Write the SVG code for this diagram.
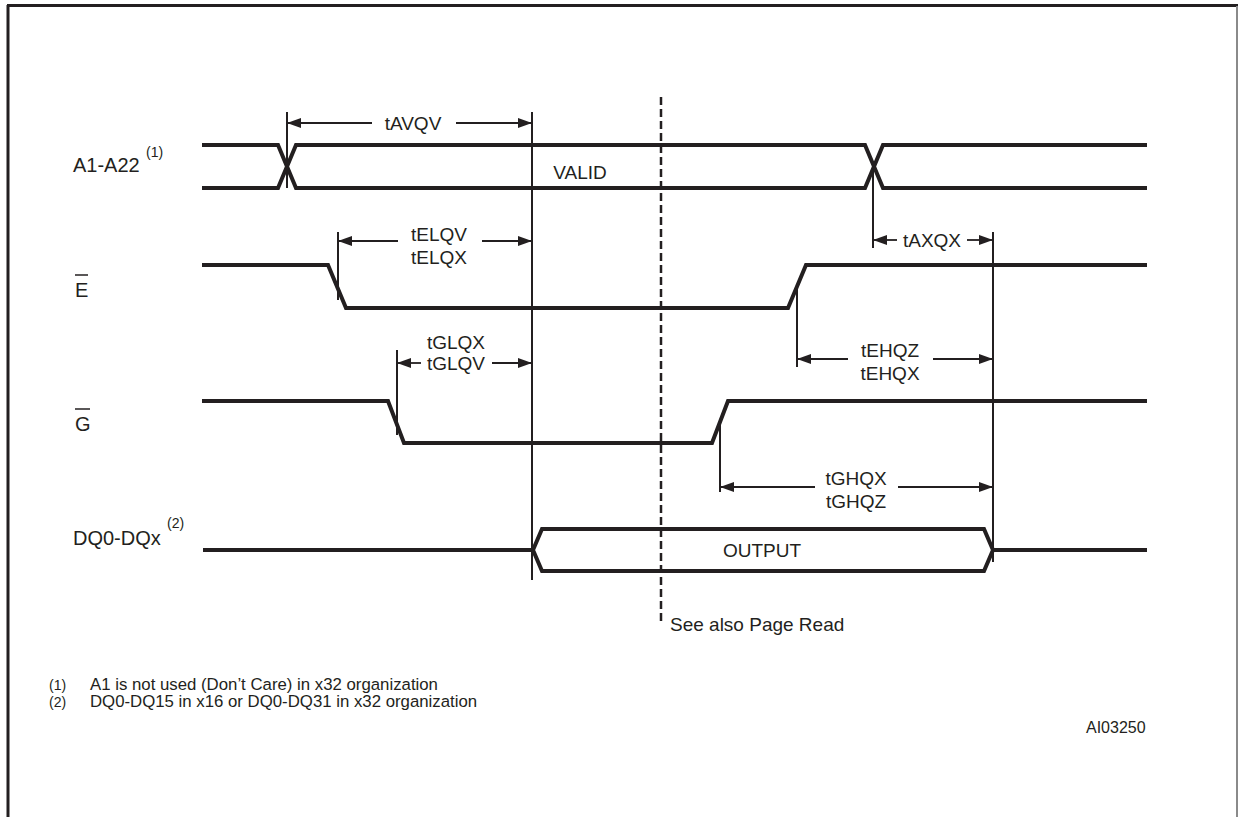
<svg xmlns="http://www.w3.org/2000/svg" width="1240" height="817" viewBox="0 0 1240 817">
<style>
  .sig { fill: none; stroke: #231f20; stroke-width: 4; stroke-linejoin: miter; }
  .ref { fill: none; stroke: #231f20; stroke-width: 2; }
  .dim { fill: none; stroke: #231f20; stroke-width: 1.8; marker-end: url(#ah); }
  .lbl { font-family: "Liberation Sans", Arial, sans-serif; font-size: 20px; fill: #231f20; }
  .tl { font-family: "Liberation Sans", Arial, sans-serif; font-size: 19px; fill: #231f20; text-anchor: middle; }
  .sup { font-family: "Liberation Sans", Arial, sans-serif; font-size: 14px; fill: #231f20; }
  .note { font-family: "Liberation Sans", Arial, sans-serif; font-size: 16.8px; fill: #231f20; }
  .ovl { stroke: #231f20; stroke-width: 1.5; }
</style>
<defs>
  <marker id="ah" viewBox="0 0 14 10" refX="14" refY="5" markerWidth="14" markerHeight="10" orient="auto" markerUnits="userSpaceOnUse">
    <path d="M0,0 L14,5 L0,10 Z" fill="#231f20"/>
  </marker>
</defs>
<rect width="1240" height="817" fill="#ffffff"/>
<g id="frame">
  <line x1="7" y1="5.5" x2="1238" y2="5.5" stroke="#231f20" stroke-width="3"/>
  <line x1="8" y1="5" x2="8" y2="817" stroke="#231f20" stroke-width="3"/>
  <line x1="1237" y1="6" x2="1237" y2="817" stroke="#8a8a8a" stroke-width="2"/>
</g>
<g id="sig-address">
  <text class="lbl" x="73" y="172">A1-A22</text>
  <text class="sup" x="146" y="157">(1)</text>
  <path class="sig" d="M202,145 H278 L296,188 H865 L883,145 H1147"/>
  <path class="sig" d="M202,188 H278 L296,145 H865 L883,188 H1147"/>
  <text class="tl" x="580" y="179">VALID</text>
</g>
<g id="sig-e">
  <text class="lbl" x="75" y="297">E</text>
  <line class="ovl" x1="75" y1="275" x2="88" y2="275"/>
  <path class="sig" d="M202,265 H328 L346,308 H788 L806,265 H1147"/>
</g>
<g id="sig-g">
  <text class="lbl" x="75" y="431">G</text>
  <line class="ovl" x1="75" y1="409" x2="90" y2="409"/>
  <path class="sig" d="M202,401 H388 L404,443 H712 L728,401 H1147"/>
</g>
<g id="sig-dq">
  <text class="lbl" x="73" y="545">DQ0-DQx</text>
  <text class="sup" x="167" y="528">(2)</text>
  <path class="sig" d="M203,550 H533"/>
  <path class="sig" d="M533,550 L542,529 H984 L993,550 L984,571 H542 Z"/>
  <path class="sig" d="M993,550 H1147"/>
  <text class="tl" x="762" y="557">OUTPUT</text>
</g>
<g id="page-read">
  <line x1="661" y1="97" x2="661" y2="622" stroke="#231f20" stroke-width="2.5" stroke-dasharray="8 4"/>
  <text class="lbl" x="670" y="631" style="font-size:19px">See also Page Read</text>
</g>
<g id="connectors">
  <line class="ref" x1="287" y1="112" x2="287" y2="188"/>
  <line class="ref" x1="532" y1="112" x2="532" y2="580"/>
  <line class="ref" x1="873" y1="166" x2="873" y2="248"/>
  <line class="ref" x1="993" y1="232" x2="993" y2="562"/>
  <line class="ref" x1="338" y1="232" x2="338" y2="300"/>
  <line class="ref" x1="797" y1="286" x2="797" y2="367"/>
  <line class="ref" x1="397" y1="350" x2="397" y2="435"/>
  <line class="ref" x1="720" y1="420" x2="720" y2="492"/>

  <line class="dim" x1="372" y1="123" x2="287" y2="123"/>
  <line class="dim" x1="456" y1="123" x2="532" y2="123"/>
  <text class="tl" x="413" y="130">tAVQV</text>

  <line class="dim" x1="398" y1="241" x2="338" y2="241"/>
  <line class="dim" x1="482" y1="241" x2="532" y2="241"/>
  <text class="tl" x="439" y="241">tELQV</text>
  <text class="tl" x="439" y="264">tELQX</text>

  <line class="dim" x1="421" y1="363" x2="397" y2="363"/>
  <line class="dim" x1="492" y1="363" x2="532" y2="363"/>
  <text class="tl" x="456" y="349">tGLQX</text>
  <text class="tl" x="456" y="370">tGLQV</text>

  <line class="dim" x1="897" y1="240" x2="873" y2="240"/>
  <line class="dim" x1="967" y1="240" x2="993" y2="240"/>
  <text class="tl" x="932" y="247">tAXQX</text>

  <line class="dim" x1="848" y1="359" x2="797" y2="359"/>
  <line class="dim" x1="933" y1="359" x2="993" y2="359"/>
  <text class="tl" x="890" y="357">tEHQZ</text>
  <text class="tl" x="890" y="380">tEHQX</text>

  <line class="dim" x1="815" y1="487" x2="720" y2="487"/>
  <line class="dim" x1="898" y1="487" x2="993" y2="487"/>
  <text class="tl" x="856" y="485">tGHQX</text>
  <text class="tl" x="856" y="508">tGHQZ</text>
</g>
<g id="notes">
  <text class="sup" x="49" y="690">(1)</text>
  <text class="note" x="90" y="690">A1 is not used (Don’t Care) in x32 organization</text>
  <text class="sup" x="49" y="707">(2)</text>
  <text class="note" x="90" y="707">DQ0-DQ15 in x16 or DQ0-DQ31 in x32 organization</text>
  <text class="note" x="1086" y="733" style="font-size:16px">AI03250</text>
</g>
</svg>
